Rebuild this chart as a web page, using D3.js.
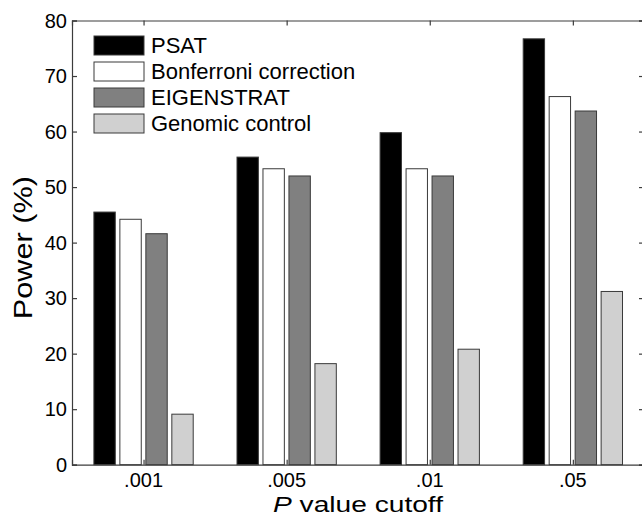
<!DOCTYPE html>
<html>
<head>
<meta charset="utf-8">
<script src="https://cdn.jsdelivr.net/npm/d3@7"></script>
<style>
  body { margin: 0; background: #fff; }
  text { font-family: "Liberation Sans", Arial, sans-serif; fill: #000; }
</style>
</head>
<body>
<div id="chart"></div>
<script>
// chart data
const cutoffs = [".001", ".005", ".01", ".05"];
const seriesNames = ["PSAT", "Bonferroni correction", "EIGENSTRAT", "Genomic control"];
const psat = [45.5, 55.4, 59.8, 76.7];
const bonferroni = [44.2, 53.3, 53.3, 66.3];
const eigenstrat = [41.6, 52.0, 52.0, 63.7];
const genomic = [9.1, 18.2, 20.8, 31.2];
const yTicks = [0, 10, 20, 30, 40, 50, 60, 70, 80];
const fills = ["#000000", "#ffffff", "#808080", "#d0d0d0"];

function main(){
    let width = 642, height = 519;
    let svg = d3.select("#chart").append("svg")
        .attr("width", width).attr("height", height);

    let left = 72, right = 644, top = 20.5, bottom = 464.7;
    let axisColor = "#3c3c3c";

    let x = d3.scaleLinear().domain([0.5, cutoffs.length + 0.5]).range([left, right + 0.4]);
    let y = d3.scaleLinear().domain([0, 80]).range([bottom, top]);
    // position of each series inside a group, in group units
    let inner = d3.scaleBand().domain(d3.range(seriesNames.length))
        .range([-0.347, 0.347]).paddingInner(0.177).paddingOuter(0);

    let allSeries = [psat, bonferroni, eigenstrat, genomic];
    let rows = [];
    allSeries.forEach((vals, s) => {
        vals.forEach((v, g) => rows.push({s: s, g: g, v: v}));
    });

    svg.selectAll("rect.bar")
        .data(rows)
        .enter()
        .append("rect")
            .attr("class", "bar")
            .attr("x", d => x(d.g + 1 + inner(d.s)))
            .attr("y", d => y(d.v))
            .attr("width", d => x(inner.bandwidth()) - x(0))
            .attr("height", d => y(0) - y(d.v))
            .attr("fill", d => fills[d.s])
            .attr("stroke", "#3a3a3a")
            .attr("stroke-width", 1);

    // axes box, ticks pointing inward
    let tickLen = 5;
    let yLeft = d3.axisRight(y).tickValues(yTicks).tickSize(tickLen).tickFormat("");
    svg.append("g").attr("transform", `translate(${left},0)`).call(yLeft);
    let yRight = d3.axisLeft(y).tickValues(yTicks).tickSize(tickLen).tickFormat("");
    svg.append("g").attr("transform", `translate(${right},0)`).call(yRight);
    let xBottom = d3.axisTop(x).tickValues([1, 2, 3, 4]).tickSize(tickLen).tickFormat("");
    svg.append("g").attr("transform", `translate(0,${bottom})`).call(xBottom);
    let xTop = d3.axisBottom(x).tickValues([1, 2, 3, 4]).tickSize(tickLen).tickFormat("");
    svg.append("g").attr("transform", `translate(0,${top})`).call(xTop);
    svg.selectAll(".domain").attr("stroke", axisColor).attr("stroke-width", 1.2);
    svg.selectAll(".tick line").attr("stroke", axisColor).attr("stroke-width", 1.2);

    // tick labels
    svg.selectAll("text.ylab")
        .data(yTicks)
        .enter()
        .append("text")
            .attr("class", "ylab")
            .attr("x", left - 5)
            .attr("y", d => y(d) + 7)
            .attr("text-anchor", "end")
            .attr("font-size", "20px")
            .text(d => d);

    svg.selectAll("text.xlab")
        .data(cutoffs)
        .enter()
        .append("text")
            .attr("class", "xlab")
            .attr("x", (d, i) => x(i + 1))
            .attr("y", 487)
            .attr("text-anchor", "middle")
            .attr("font-size", "20px")
            .text(d => d);

    // axis titles (the original figure was stretched sideways a little)
    let xt = svg.append("text")
        .attr("transform", `translate(${(left + right) / 2},511.5) scale(1.28,1)`)
        .attr("text-anchor", "middle")
        .attr("font-size", "22px");
    xt.append("tspan").attr("font-style", "italic").text("P");
    xt.append("tspan").text(" value cutoff");

    svg.append("text")
        .attr("transform", `translate(32,${(top + bottom) / 2 + 5}) rotate(-90) scale(1.18,1)`)
        .attr("text-anchor", "middle")
        .attr("font-size", "26px")
        .text("Power (%)");

    // legend
    let leg = svg.append("g").attr("transform", "translate(94,36)");
    let items = leg.selectAll("g")
        .data(seriesNames)
        .enter()
        .append("g")
            .attr("transform", (d, i) => `translate(0,${i * 26})`);
    items.append("rect")
        .attr("width", 50).attr("height", 19)
        .attr("fill", (d, i) => fills[i])
        .attr("stroke", "#3a3a3a").attr("stroke-width", 1);
    items.append("text")
        .attr("x", 57).attr("y", 17)
        .attr("font-size", "22px")
        .text(d => d);
}

window.onload = () => { main(); };
</script>
</body>
</html>
